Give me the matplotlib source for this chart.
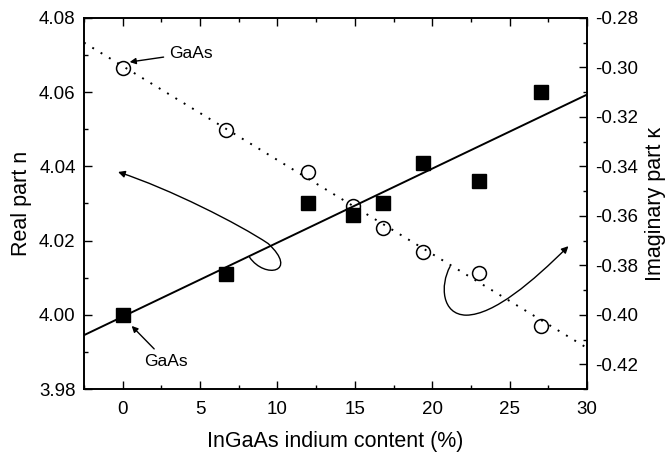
import numpy as np
import matplotlib
matplotlib.use("Agg")
import matplotlib.pyplot as plt
from matplotlib.path import Path
from matplotlib.patches import FancyArrowPatch
from matplotlib.ticker import MultipleLocator, FormatStrFormatter

plt.rcParams['font.family'] = ['Liberation Sans', 'DejaVu Sans']

# indium content (%) of the samples
indium = [0, 6.7, 12, 14.9, 16.8, 19.4, 23, 27]
# real part n (left axis, filled squares)
real_n = [4.000, 4.011, 4.030, 4.027, 4.030, 4.041, 4.036, 4.060]
# imaginary part kappa (right axis, open circles)
imag_k = [-0.3003, -0.3253, -0.3421, -0.3560, -0.3650, -0.3745, -0.3830, -0.4044]

x = np.array(indium)
fit_x = np.array([-2.5, 30])
fit_n = np.polyval(np.polyfit(x, real_n, 1), fit_x)
fit_k = np.polyval(np.polyfit(x, imag_k, 1), fit_x)

fig = plt.figure(figsize=(6.65, 4.53), dpi=100)
ax = fig.add_axes([84 / 665, 1 - 389 / 453, 503 / 665, 371 / 453])
ax2 = ax.twinx()

# real part
ax.plot(fit_x, fit_n, color='black', lw=1.4, zorder=2)
ax.plot(x, real_n, ls='none', marker='s', ms=10, color='black', zorder=3)

# imaginary part
ax2.plot(fit_x, fit_k, color='black', lw=1.4, ls=(0, (1, 4)), zorder=2)
ax2.plot(x, imag_k, ls='none', marker='o', ms=10, mfc='none', mec='black', mew=1.1, zorder=3)

ax.set_xlim(-2.5, 30)
ax.set_ylim(3.98, 4.08)
ax2.set_ylim(-0.43, -0.28)

ax.xaxis.set_major_locator(MultipleLocator(5))
ax.xaxis.set_minor_locator(MultipleLocator(2.5))
ax.yaxis.set_major_locator(MultipleLocator(0.02))
ax.yaxis.set_minor_locator(MultipleLocator(0.01))
ax.yaxis.set_major_formatter(FormatStrFormatter('%.2f'))
ax2.yaxis.set_major_locator(MultipleLocator(0.02))
ax2.yaxis.set_minor_locator(MultipleLocator(0.01))
ax2.yaxis.set_major_formatter(FormatStrFormatter('%.2f'))

ax.tick_params(which='both', direction='in', top=True, right=False, width=1.0, labelsize=13.5)
ax.tick_params(which='major', length=5.5, pad=6)
ax.tick_params(which='minor', length=3)
ax.tick_params(axis='x', which='major', pad=9)
ax2.tick_params(which='both', direction='in', width=1.0, labelsize=13.5)
ax2.tick_params(which='major', length=5.5, pad=6)
ax2.tick_params(which='minor', length=3)
for a in (ax, ax2):
    for s in a.spines.values():
        s.set_linewidth(1.2)

ax.set_xlabel('InGaAs indium content (%)', fontsize=15.5, labelpad=9)
ax.set_ylabel('Real part n', fontsize=15.5)
ax.yaxis.set_label_coords(-0.103, 0.5)
ax2.set_ylabel('Imaginary part κ', fontsize=15.5)
ax2.yaxis.set_label_coords(1.116, 0.5)

# GaAs labels
ax2.annotate('GaAs', xy=(0.45, -0.2978), xytext=(3.0, -0.2942), fontsize=12.5,
             ha='left', va='center',
             arrowprops=dict(arrowstyle='-|>', color='black', lw=1.0, mutation_scale=9,
                             shrinkA=2, shrinkB=0))
ax.annotate('GaAs', xy=(0.58, 3.997), xytext=(2.81, 3.9875), fontsize=12.5,
            ha='center', va='center',
            arrowprops=dict(arrowstyle='-|>', color='black', lw=1.0, mutation_scale=9,
                            shrinkA=2, shrinkB=0))

# curved arrows pointing to each axis
left_curve = Path([(8.2, 4.0155), (9.2, 4.0095), (11.4, 4.0115), (9.4, 4.0192),
                   (7.5, 4.0245), (3.0, 4.0340), (-0.3, 4.0385)],
                  [Path.MOVETO, Path.CURVE4, Path.CURVE4, Path.CURVE4,
                   Path.CURVE4, Path.CURVE4, Path.CURVE4])
right_curve = Path([(21.15, 4.0130), (20.5, 4.0080), (20.6, 4.0000), (22.2, 3.9999),
                    (24.0, 4.0000), (26.5, 4.0090), (28.8, 4.0185)],
                   [Path.MOVETO, Path.CURVE4, Path.CURVE4, Path.CURVE4,
                    Path.CURVE4, Path.CURVE4, Path.CURVE4])
for p in (left_curve, right_curve):
    ax.add_patch(FancyArrowPatch(path=p, arrowstyle='-|>', color='black', lw=1.0,
                                 mutation_scale=10))

fig.savefig('out.png', dpi=100)
